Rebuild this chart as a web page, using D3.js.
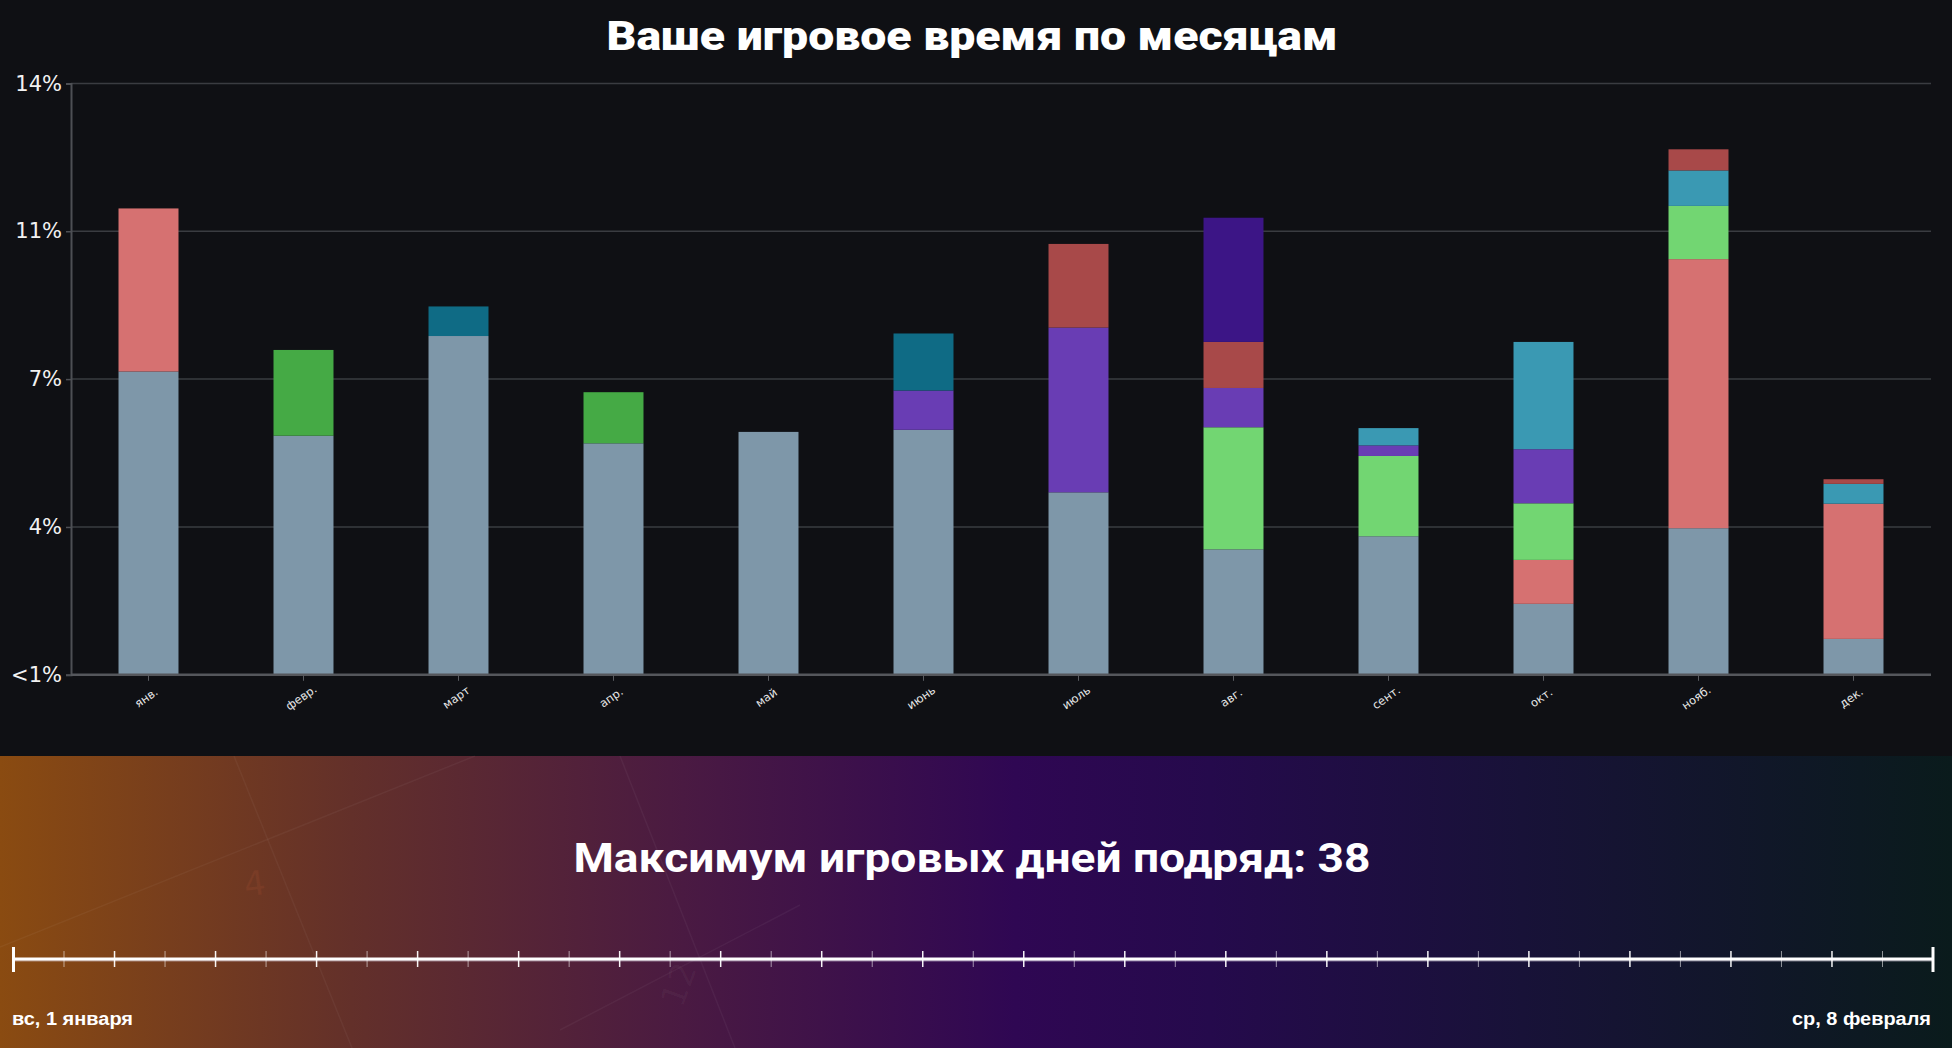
<!DOCTYPE html>
<html>
<head>
<meta charset="utf-8">
<script src="https://cdn.jsdelivr.net/npm/d3@7"></script>
<style>
  html, body { margin: 0; padding: 0; background: #0f1014; overflow: hidden; }
  svg { display: block; }
</style>
</head>
<body>
<svg id="chart" width="1952" height="1048"></svg>
<script>
// ---------- DATA ----------
const months = ["янв.", "февр.", "март", "апр.", "май", "июнь", "июль", "авг.", "сент.", "окт.", "нояб.", "дек."];

const seriesKeys = ["s1", "s2", "s3", "s4", "s5", "s6", "s7", "s8", "s9"];
const s1 = [7.18, 5.66, 8.02, 5.48, 5.75, 5.80, 4.32, 2.97, 3.28, 1.68, 3.47, 0.85];
const s2 = [3.86, 0, 0, 0, 0, 0, 0, 0, 0, 1.04, 6.37, 3.20];
const s3 = [0, 2.03, 0, 1.21, 0, 0, 0, 0, 0, 0, 0, 0];
const s4 = [0, 0, 0, 0, 0, 0, 0, 2.89, 1.90, 1.34, 1.26, 0];
const s5 = [0, 0, 0, 0, 0, 0.93, 3.90, 0.93, 0.25, 1.28, 0, 0];
const s6 = [0, 0, 0.70, 0, 0, 1.35, 0, 0, 0, 0, 0, 0];
const s7 = [0, 0, 0, 0, 0, 0, 0, 0, 0.41, 2.54, 0.84, 0.47];
const s8 = [0, 0, 0, 0, 0, 0, 1.98, 1.09, 0, 0, 0.50, 0.11];
const s9 = [0, 0, 0, 0, 0, 0, 0, 2.94, 0, 0, 0, 0];
const seriesValues = [s1, s2, s3, s4, s5, s6, s7, s8, s9];
const seriesColors = ["#7e97a9", "#d67171", "#45aa45", "#72d672", "#693db4", "#0f6b85", "#3a99b3", "#a84949", "#3c1586"];

const yTickValues = [0, 3.5, 7, 10.5, 14];
const yTickLabels = ["<1%", "4%", "7%", "11%", "14%"];

const chartTitle = "Ваше игровое время по месяцам";
const streakTitle = "Максимум игровых дней подряд: 38";
const streakStart = new Date(2023, 0, 1);
const streakEnd = new Date(2023, 1, 8);
const streakLabels = ["вс, 1 января", "ср, 8 февраля"];

// ---------- LAYOUT ----------
const W = 1952, H = 1048;
const plot = { left: 71, right: 1931, top: 83.4, bottom: 674.8 };
const svg = d3.select("#chart");

svg.append("rect").attr("x", 0).attr("y", 0).attr("width", W).attr("height", H).attr("fill", "#0f1014");

// title
svg.append("text")
  .attr("x", 972).attr("y", 50)
  .attr("text-anchor", "middle")
  .attr("fill", "#ffffff")
  .style("font-family", "Roboto, 'DejaVu Sans', sans-serif")
  .style("font-weight", 900)
  .style("font-size", "40px")
  .attr("textLength", 731).attr("lengthAdjust", "spacingAndGlyphs")
  .text(chartTitle);

// scales
const x = d3.scaleBand().domain(months).range([plot.left, plot.right]).paddingInner(0.613).paddingOuter(0.3065);
const y = d3.scaleLinear().domain([0, 14]).range([plot.bottom, plot.top]);

// gridlines
const g = svg.append("g");
g.selectAll("line.grid").data(yTickValues.slice(1)).join("line")
  .attr("class", "grid")
  .attr("x1", plot.left).attr("x2", plot.right)
  .attr("y1", d => y(d)).attr("y2", d => y(d))
  .attr("stroke", "#3a3c41").attr("stroke-width", 1.5);

// stacked data
const table = months.map((m, i) => {
  const row = { month: m };
  seriesKeys.forEach((k, j) => row[k] = seriesValues[j][i]);
  return row;
});
const stacked = d3.stack().keys(seriesKeys)(table);
const color = d3.scaleOrdinal().domain(seriesKeys).range(seriesColors);

g.selectAll("g.series").data(stacked).join("g")
  .attr("class", "series")
  .attr("fill", d => color(d.key))
  .selectAll("rect").data(d => d.filter(p => p[1] - p[0] > 0)).join("rect")
  .attr("x", d => x(d.data.month))
  .attr("width", x.bandwidth())
  .attr("y", d => y(d[1]))
  .attr("height", d => y(d[0]) - y(d[1]));

// y axis
const yAxis = d3.axisLeft(y).tickValues(yTickValues)
  .tickFormat((d, i) => yTickLabels[i]).tickSize(5).tickPadding(4);
const ya = svg.append("g").attr("transform", `translate(${plot.left},0)`).call(yAxis);
ya.select(".domain").attr("stroke", "#4d4f54").attr("stroke-width", 2);
ya.selectAll(".tick line").attr("stroke", "#4d4f54").attr("stroke-width", 1.5);
ya.selectAll(".tick text").attr("fill", "#f2f2f2")
  .style("font-family", "'DejaVu Sans', sans-serif").style("font-size", "21px");

// x axis
const xAxis = d3.axisBottom(x).tickSize(6).tickSizeOuter(0).tickPadding(0);
const xa = svg.append("g").attr("transform", `translate(0,${plot.bottom})`).call(xAxis);
xa.select(".domain").attr("stroke", "#55575c").attr("stroke-width", 2.5)
  .attr("d", `M${plot.left},0H${plot.right}`);
xa.selectAll(".tick line").attr("stroke", "#5a5c61");
xa.selectAll(".tick text")
  .attr("fill", "#e8e8e8")
  .attr("text-anchor", "middle")
  .attr("dy", 0)
  .attr("y", 0)
  .attr("transform", "translate(0,26) rotate(-35)")
  .style("font-family", "'DejaVu Sans', sans-serif")
  .style("font-size", "11.5px");

// ---------- BOTTOM PANEL ----------
const defs = svg.append("defs");
const grad = defs.append("linearGradient").attr("id", "bg").attr("x1", "0").attr("x2", "1").attr("y1", "0").attr("y2", "0");
[["0%", "#8a4b11"], ["18%", "#63302a"], ["35%", "#4a1a42"], ["52%", "#2f0753"], ["62%", "#250a4c"], ["78%", "#181238"], ["100%", "#0a1b1c"]]
  .forEach(([o, c]) => grad.append("stop").attr("offset", o).attr("stop-color", c));

const panelTop = 756;
svg.append("rect").attr("x", 0).attr("y", panelTop).attr("width", W).attr("height", H - panelTop).attr("fill", "url(#bg)");

// decorative faint lines
const deco = svg.append("g").attr("stroke", "#ffffff").attr("stroke-opacity", 0.045).attr("stroke-width", 1.5).attr("fill", "none");
deco.append("line").attr("x1", 234).attr("y1", panelTop).attr("x2", 352).attr("y2", H);
deco.append("line").attr("x1", 0).attr("y1", 947).attr("x2", 475).attr("y2", panelTop);
deco.append("line").attr("x1", 620).attr("y1", panelTop).attr("x2", 735).attr("y2", H);
deco.append("line").attr("x1", 560).attr("y1", 1030).attr("x2", 800).attr("y2", 905);
svg.append("text").attr("x", 245).attr("y", 895).attr("fill", "#d06040").attr("fill-opacity", 0.12)
  .attr("transform", "rotate(-8,258,892)")
  .style("font-family", "'DejaVu Sans', sans-serif").style("font-size", "34px").text("4");
svg.append("text").attr("x", 655).attr("y", 1000).attr("fill", "#ffffff").attr("fill-opacity", 0.035)
  .attr("transform", "rotate(-70,675,985)")
  .style("font-family", "'DejaVu Sans', sans-serif").style("font-size", "34px").text("12");

// streak title
svg.append("text")
  .attr("x", 972).attr("y", 872)
  .attr("text-anchor", "middle")
  .attr("fill", "#ffffff")
  .style("font-family", "Roboto, 'Liberation Sans', sans-serif")
  .style("font-weight", 700)
  .style("font-size", "41px")
  .attr("textLength", 797).attr("lengthAdjust", "spacingAndGlyphs")
  .text(streakTitle);

// timeline
const tx = d3.scaleTime().domain([streakStart, streakEnd]).range([13.5, 1933]);
const ty = 959;
const days = d3.timeDay.range(streakStart, d3.timeDay.offset(streakEnd, 1));
svg.append("line").attr("x1", tx(streakStart)).attr("x2", tx(streakEnd)).attr("y1", ty + 1.5).attr("y2", ty + 1.5)
  .attr("stroke", "#d8d0e0").attr("stroke-opacity", 0.5).attr("stroke-width", 2);
svg.selectAll("line.day").data(days.slice(1, -1)).join("line")
  .attr("class", "day")
  .attr("x1", d => tx(d)).attr("x2", d => tx(d))
  .attr("y1", ty - 8).attr("y2", ty + 8)
  .attr("stroke", "#ffffff")
  .attr("stroke-opacity", (d, i) => i % 2 === 0 ? 0.55 : 0.95)
  .attr("stroke-width", (d, i) => i % 2 === 0 ? 1 : 1.5);
svg.append("line").attr("x1", tx(streakStart)).attr("x2", tx(streakEnd)).attr("y1", ty).attr("y2", ty)
  .attr("stroke", "#ffffff").attr("stroke-width", 3);
svg.selectAll("line.cap").data([streakStart, streakEnd]).join("line")
  .attr("class", "cap")
  .attr("x1", d => tx(d)).attr("x2", d => tx(d))
  .attr("y1", ty - 12).attr("y2", ty + 13)
  .attr("stroke", "#ffffff").attr("stroke-width", 3);

svg.append("text").attr("x", 12).attr("y", 1025).attr("fill", "#ffffff")
  .style("font-family", "'Liberation Sans', Arial, sans-serif").style("font-weight", 700).style("font-size", "18px")
  .attr("textLength", 121).attr("lengthAdjust", "spacingAndGlyphs")
  .text(streakLabels[0]);
svg.append("text").attr("x", 1931).attr("y", 1025).attr("fill", "#ffffff").attr("text-anchor", "end")
  .style("font-family", "'Liberation Sans', Arial, sans-serif").style("font-weight", 700).style("font-size", "18px")
  .attr("textLength", 139).attr("lengthAdjust", "spacingAndGlyphs")
  .text(streakLabels[1]);
</script>
</body>
</html>
